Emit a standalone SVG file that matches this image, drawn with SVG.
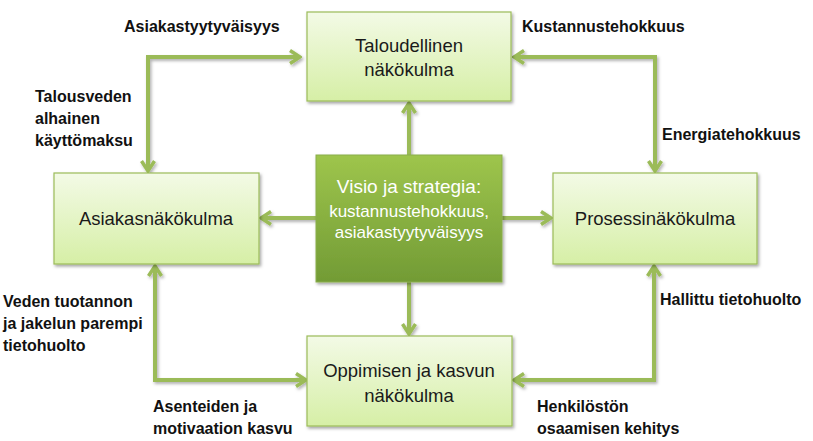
<svg xmlns="http://www.w3.org/2000/svg" width="813" height="441" viewBox="0 0 813 441">
<defs>
<linearGradient id="gLight" x1="0" y1="0" x2="0" y2="1">
<stop offset="0" stop-color="#f3fae6"/>
<stop offset="1" stop-color="#d6efa6"/>
</linearGradient>
<linearGradient id="gDark" x1="0" y1="0" x2="0" y2="1">
<stop offset="0" stop-color="#9ec54c"/>
<stop offset="1" stop-color="#729b35"/>
</linearGradient>
<filter id="sh" x="-10%" y="-10%" width="125%" height="130%">
<feDropShadow dx="1.5" dy="2" stdDeviation="1.5" flood-color="#000" flood-opacity="0.35"/>
</filter>
<filter id="shl" filterUnits="userSpaceOnUse" x="0" y="0" width="813" height="441">
<feDropShadow dx="1.5" dy="2" stdDeviation="1.5" flood-color="#000" flood-opacity="0.3"/>
</filter>
<marker id="ah" viewBox="0 0 14 16" refX="12" refY="8" markerWidth="14" markerHeight="16" markerUnits="userSpaceOnUse" orient="auto-start-reverse">
<path d="M2,1.5 L12,8 L2,14.5" fill="none" stroke="#9bbb59" stroke-width="3.5" stroke-linejoin="miter"/>
</marker>
</defs>
<style>
.box{fill:url(#gLight);stroke:#9bbb59;stroke-width:1.2;filter:url(#sh)}
.cbox{fill:url(#gDark);stroke:#8aad4a;stroke-width:1;filter:url(#sh)}
.nt{font-family:"Liberation Sans",Arial,sans-serif;font-size:18.5px;fill:#1a1a1a;text-anchor:middle}
.ct{font-family:"Liberation Sans",Arial,sans-serif;fill:#ffffff;text-anchor:middle}
.lb{font-family:"Liberation Sans",Arial,sans-serif;font-size:16px;font-weight:bold;fill:#111}
.cn{fill:none;stroke:#9bbb59;stroke-width:4;marker-end:url(#ah)}
.both{marker-start:url(#ah)}
</style>
<g id="connectors" filter="url(#shl)">
<path class="cn both" d="M300,57 H148 V171"/>
<path class="cn both" d="M514,57 H655 V171"/>
<path class="cn both" d="M155,266 V380 H306"/>
<path class="cn both" d="M654,266 V380 H514"/>
<path class="cn" d="M409,155 V103"/>
<path class="cn" d="M409,282 V334"/>
<path class="cn" d="M316,218 H261"/>
<path class="cn" d="M502,218 H551"/>
</g>
<g id="n-talous">
<rect class="box" x="307" y="12" width="204" height="89"/>
<text class="nt" x="409" y="52">Taloudellinen</text>
<text class="nt" x="409" y="76">näkökulma</text>
</g>
<g id="n-asiakas">
<rect class="box" x="54" y="173" width="205" height="91"/>
<text class="nt" x="156" y="225">Asiakasnäkökulma</text>
</g>
<g id="n-prosessi">
<rect class="box" x="553" y="173" width="204" height="91"/>
<text class="nt" x="655" y="225">Prosessinäkökulma</text>
</g>
<g id="n-oppiminen">
<rect class="box" x="307" y="336" width="205" height="90"/>
<text class="nt" x="409" y="377">Oppimisen ja kasvun</text>
<text class="nt" x="409" y="402">näkökulma</text>
</g>
<g id="n-visio">
<rect class="cbox" x="316" y="155" width="186" height="127"/>
<text class="ct" x="409" y="193" font-size="19">Visio ja strategia:</text>
<text class="ct" x="409" y="217" font-size="17">kustannustehokkuus,</text>
<text class="ct" x="409" y="238" font-size="17">asiakastyytyväisyys</text>
</g>
<g id="labels">
<text class="lb" x="124" y="32">Asiakastyytyväisyys</text>
<text class="lb" x="522" y="32">Kustannustehokkuus</text>
<text class="lb" x="35" y="102">Talousveden</text>
<text class="lb" x="35" y="124">alhainen</text>
<text class="lb" x="35" y="146">käyttömaksu</text>
<text class="lb" x="662" y="140">Energiatehokkuus</text>
<text class="lb" x="3" y="307">Veden tuotannon</text>
<text class="lb" x="3" y="329">ja jakelun parempi</text>
<text class="lb" x="3" y="351">tietohuolto</text>
<text class="lb" x="660" y="305">Hallittu tietohuolto</text>
<text class="lb" x="153" y="412">Asenteiden ja</text>
<text class="lb" x="153" y="434">motivaation kasvu</text>
<text class="lb" x="537" y="412">Henkilöstön</text>
<text class="lb" x="537" y="434">osaamisen kehitys</text>
</g>
</svg>
